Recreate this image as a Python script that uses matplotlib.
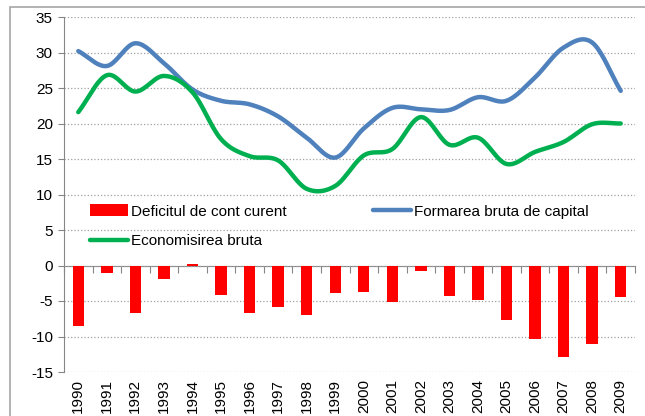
import matplotlib
matplotlib.use("Agg")
import matplotlib.pyplot as plt
import numpy as np
from matplotlib.patches import Rectangle

plt.rcParams['font.family'] = ['Liberation Sans', 'DejaVu Sans']
plt.rcParams['axes.unicode_minus'] = False

years = [str(y) for y in range(1990, 2010)]
deficit = [-8.5, -1.0, -6.7, -1.9, 0.2, -4.1, -6.7, -5.9, -7.0, -3.9,
           -3.7, -5.2, -0.75, -4.3, -4.8, -7.7, -10.4, -12.9, -11.0, -4.5]
formarea = [30.2, 28.1, 31.3, 28.5, 24.8, 23.2, 22.7, 21.0, 18.0, 15.2,
            19.3, 22.2, 22.0, 21.9, 23.7, 23.2, 26.5, 30.7, 31.4, 24.6]
economisirea = [21.6, 26.8, 24.5, 26.7, 24.4, 17.8, 15.4, 14.8, 10.8, 11.2,
                15.5, 16.4, 20.9, 17.0, 18.0, 14.3, 16.0, 17.4, 19.9, 20.0]


def smooth(x, y, n=20):
    # catmull-rom, like Excel's smoothed lines
    x = np.asarray(x, float)
    y = np.asarray(y, float)
    px = np.concatenate([[2 * x[0] - x[1]], x, [2 * x[-1] - x[-2]]])
    py = np.concatenate([[2 * y[0] - y[1]], y, [2 * y[-1] - y[-2]]])
    xs, ys = [], []
    t = np.linspace(0, 1, n, endpoint=False)
    for i in range(1, len(px) - 2):
        for p, out in ((px, xs), (py, ys)):
            p0, p1, p2, p3 = p[i - 1], p[i], p[i + 1], p[i + 2]
            out.extend(0.5 * ((2 * p1) + (-p0 + p2) * t
                              + (2 * p0 - 5 * p1 + 4 * p2 - p3) * t ** 2
                              + (-p0 + 3 * p1 - 3 * p2 + p3) * t ** 3))
    xs.append(x[-1])
    ys.append(y[-1])
    return xs, ys


fig = plt.figure(figsize=(6.45, 4.16), dpi=100)
fig.patches.append(Rectangle((10 / 645, -0.1), 1.2, 1 - 7 / 416 + 0.1,
                             transform=fig.transFigure, fill=False,
                             edgecolor='#a6a6a6', linewidth=1.2))
ax = fig.add_axes([64 / 645, 1 - 372 / 416, 571 / 645, 355 / 416])

x = np.arange(len(years))
bars = ax.bar(x, deficit, 0.4, color='#ff0000', label='Deficitul de cont curent', zorder=3)
bx, by = smooth(x, formarea)
l1, = ax.plot(bx, by, color='#4f81bd', lw=3.2, solid_capstyle='round',
              label='Formarea bruta de capital', zorder=4)
gx, gy = smooth(x, economisirea)
l2, = ax.plot(gx, gy, color='#00b050', lw=3.2, solid_capstyle='round',
              label='Economisirea bruta', zorder=4)

ax.set_xlim(-0.5, len(years) - 0.5)
ax.set_ylim(-15, 35)
ax.set_yticks(range(-15, 36, 5))
ax.yaxis.grid(True, linestyle=':', color='#a0a0a0', linewidth=0.9)
ax.set_axisbelow(True)
ax.tick_params(axis='y', length=4, color='#868686', labelsize=11, pad=4)
ax.set_xticks(x, years, rotation=90)
ax.tick_params(axis='x', length=0, labelsize=11, pad=5)
for s in ['top', 'right', 'bottom']:
    ax.spines[s].set_visible(False)
ax.spines['left'].set_color('#868686')

# category axis crossing at zero
zero = (0 - ax.get_ylim()[0]) / (ax.get_ylim()[1] - ax.get_ylim()[0])
sec = ax.secondary_xaxis(zero)
sec.set_xticks(np.arange(-0.5, len(years), 1.0), [''] * (len(years) + 1))
sec.tick_params(length=5, color='#868686', direction='out')
sec.spines['bottom'].set_color('#868686')

ax.legend([bars, l2, l1], ['Deficitul de cont curent', 'Economisirea bruta',
                           'Formarea bruta de capital'],
          ncol=2, loc='upper left', bbox_to_anchor=(0.035, 0.49), frameon=False,
          fontsize=11, handlelength=2.5, handleheight=0.85, labelspacing=1.0,
          columnspacing=5.6, handletextpad=0.2, borderaxespad=0)

fig.savefig('out.png', dpi=100)
